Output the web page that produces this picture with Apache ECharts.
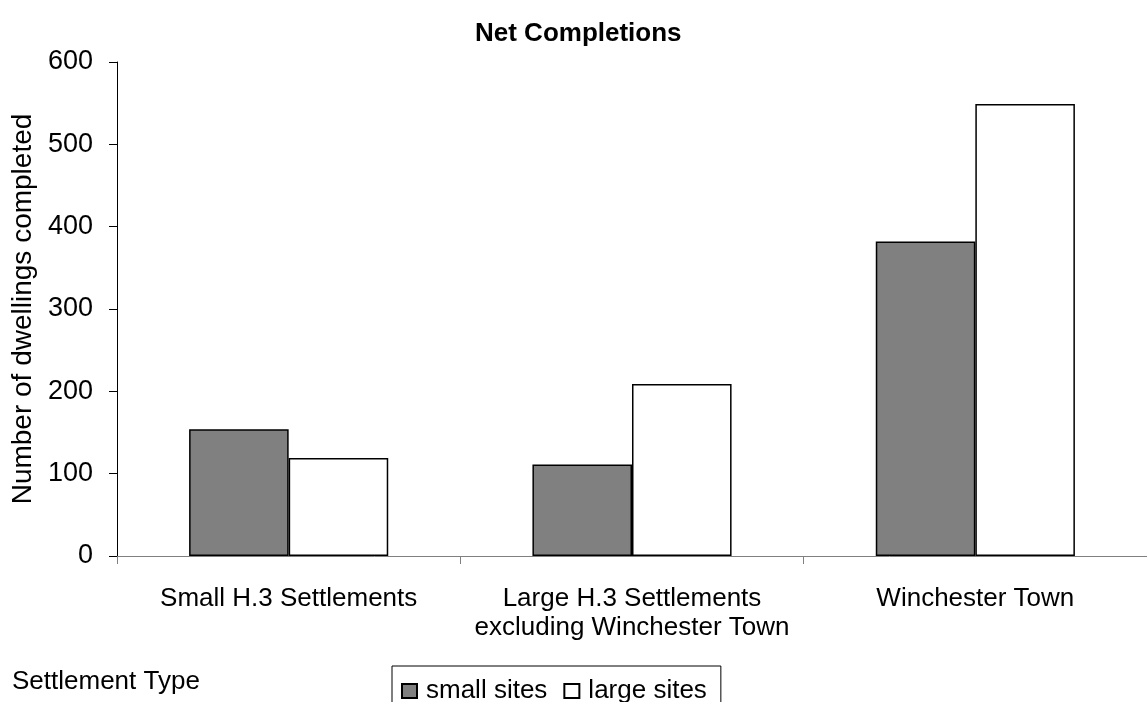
<!DOCTYPE html>
<html>
<head>
<meta charset="utf-8">
<script src="https://cdn.jsdelivr.net/npm/echarts@6/dist/echarts.min.js"></script>
<style>
  html, body { margin: 0; padding: 0; background: #fff; }
  #chart { width: 1147px; height: 702px; }
</style>
</head>
<body>
<div id="chart"></div>
<script>
// Settlement categories on the x axis
const categories = [
  'Small H.3 Settlements',
  'Large H.3 Settlements\nexcluding Winchester Town',
  'Winchester Town'
];
// Net completions by site size
const smallSites = [154, 111, 382];
const largeSites = [119, 209, 549];
const yTicks = { min: 0, max: 600, interval: 100 };

const FONT = 'Liberation Sans, Arial, sans-serif';
const chart = echarts.init(document.getElementById('chart'));

chart.setOption({
  animation: false,
  backgroundColor: '#ffffff',
  textStyle: { fontFamily: FONT, color: '#000' },
  title: {
    text: 'Net Completions',
    left: 470,
    top: 16,
    textStyle: { fontFamily: FONT, fontSize: 26, fontWeight: 'bold', color: '#000' }
  },
  legend: {
    left: 392,
    top: 666,
    orient: 'horizontal',
    itemWidth: 15,
    itemHeight: 14,
    itemGap: 16,
    padding: [12, 14, 20, 9],
    borderColor: '#000',
    borderWidth: 1,
    icon: 'rect',
    textStyle: { fontFamily: FONT, fontSize: 26, color: '#000', padding: [0, 0, 0, 4] },
    data: ['small sites', 'large sites']
  },
  graphic: [{
    type: 'text',
    left: 12,
    top: 669,
    style: { text: 'Settlement Type', font: '26px ' + FONT, fill: '#000' }
  }],
  grid: { left: 117, top: 62, right: -8, bottom: 146, containLabel: false },
  xAxis: {
    type: 'category',
    data: categories,
    axisLine: { lineStyle: { color: '#808080', width: 1 } },
    axisTick: { show: true, length: 8, inside: false, lineStyle: { color: '#808080' } },
    axisLabel: { fontFamily: FONT, fontSize: 26, color: '#000', margin: 28, lineHeight: 29, interval: 0 },
    splitLine: { show: false }
  },
  yAxis: {
    type: 'value',
    min: yTicks.min,
    max: yTicks.max,
    interval: yTicks.interval,
    name: 'Number of dwellings completed',
    nameLocation: 'middle',
    nameRotate: 90,
    nameGap: 76,
    nameTextStyle: { fontFamily: FONT, fontSize: 28, color: '#000' },
    axisLine: { show: true, lineStyle: { color: '#000', width: 1 } },
    axisTick: { show: true, length: 8, lineStyle: { color: '#000' } },
    axisLabel: { fontFamily: FONT, fontSize: 27, color: '#000', margin: 24 },
    splitLine: { show: false }
  },
  series: [
    {
      name: 'small sites',
      type: 'bar',
      data: smallSites,
      barGap: '0%',
      barCategoryGap: '42%',
      itemStyle: { color: '#808080', borderColor: '#000', borderWidth: 1.5 }
    },
    {
      name: 'large sites',
      type: 'bar',
      data: largeSites,
      barGap: '0%',
      barCategoryGap: '42%',
      itemStyle: { color: '#ffffff', borderColor: '#000', borderWidth: 1.5 }
    }
  ]
});
</script>
</body>
</html>
